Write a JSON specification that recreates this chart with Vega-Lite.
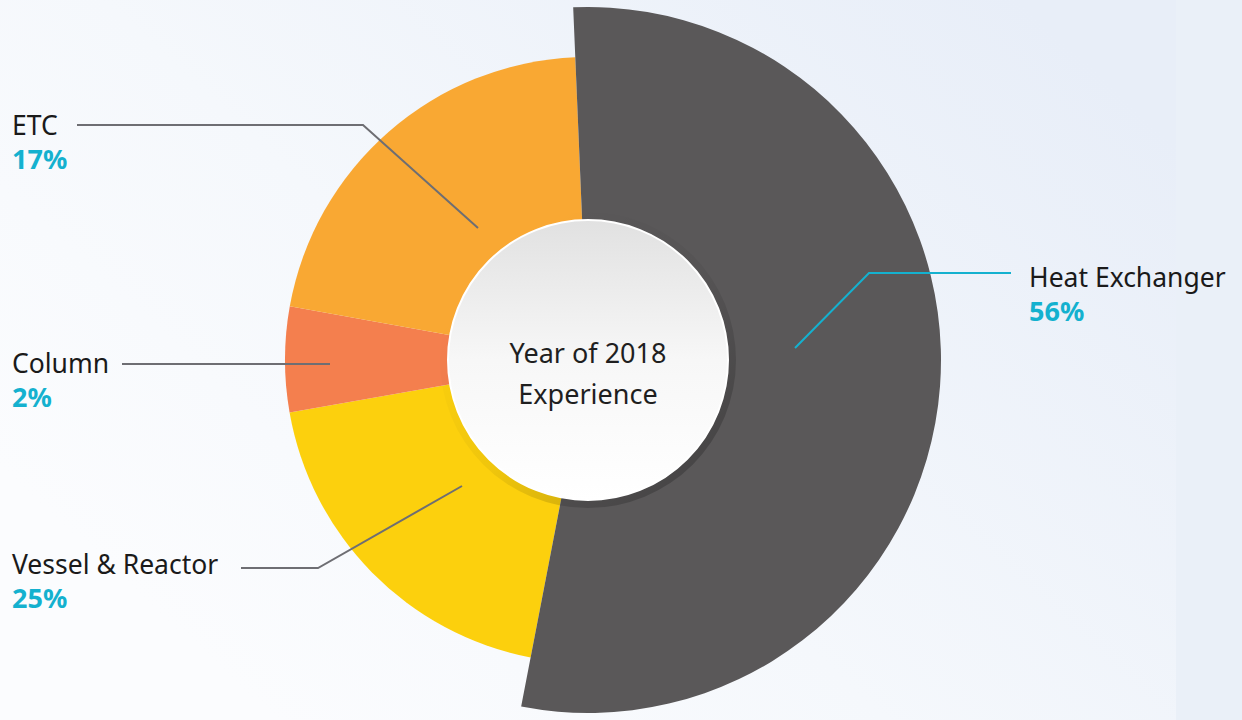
{
  "$schema": "https://vega.github.io/schema/vega-lite/v6.json",
  "autosize": {"type": "none"},
  "width": 1176,
  "height": 720,
  "padding": {"left": 0, "top": 0, "right": 66, "bottom": 0},
  "background": "#eaf0f8",
  "config": {
    "view": {"stroke": null, "fill": {"gradient": "linear", "x1": 1, "y1": 0.2, "x2": 0.1, "y2": 0.8, "stops": [{"offset": 0, "color": "#e8eef8"}, {"offset": 0.6, "color": "#f5f8fc"}, {"offset": 1, "color": "#fbfcfe"}]}},
    "font": "Noto Sans"
  },
  "datasets": {
    "slices": [
      {"cat": "Heat Exchanger", "rank": 1, "share": 0.537, "pct": "56%"},
      {"cat": "Vessel & Reactor", "rank": 2, "share": 0.192, "pct": "25%"},
      {"cat": "Column", "rank": 3, "share": 0.056, "pct": "2%"},
      {"cat": "ETC", "rank": 4, "share": 0.215, "pct": "17%"}
    ],
    "leaders": [
      {"cat": "ETC", "i": 0, "x": -511, "y": 235},
      {"cat": "ETC", "i": 1, "x": -225, "y": 235},
      {"cat": "ETC", "i": 2, "x": -110, "y": 132},
      {"cat": "Column", "i": 0, "x": -466, "y": -4},
      {"cat": "Column", "i": 1, "x": -258, "y": -4},
      {"cat": "Vessel & Reactor", "i": 0, "x": -347, "y": -208},
      {"cat": "Vessel & Reactor", "i": 1, "x": -270, "y": -208},
      {"cat": "Vessel & Reactor", "i": 2, "x": -126, "y": -126}
    ],
    "heLeader": [
      {"cat": "Heat Exchanger", "i": 0, "x": 207, "y": 12},
      {"cat": "Heat Exchanger", "i": 1, "x": 281, "y": 87},
      {"cat": "Heat Exchanger", "i": 2, "x": 423, "y": 87}
    ],
    "labels": [
      {"cat": "ETC", "pct": "17%", "x": -576, "y": 225},
      {"cat": "Column", "pct": "2%", "x": -576, "y": -13},
      {"cat": "Vessel & Reactor", "pct": "25%", "x": -576, "y": -214},
      {"cat": "Heat Exchanger", "pct": "56%", "x": 441, "y": 73}
    ],
    "center": [
      {"line": "Year of 2018", "x": 0, "y": -3},
      {"line": "Experience", "x": 0, "y": -44}
    ]
  },
  "layer": [
    {
      "data": {"name": "slices"},
      "transform": [
        {"stack": "share", "groupby": [], "sort": [{"field": "rank", "order": "ascending"}], "as": ["t0", "t1"]},
        {"filter": "datum.cat !== 'Heat Exchanger'"}
      ],
      "mark": {"type": "arc", "outerRadius": 303, "innerRadius": 0},
      "encoding": {
        "theta": {"field": "t0", "type": "quantitative", "scale": {"domain": [0, 1], "range": [-0.042, 6.2412]}},
        "theta2": {"field": "t1"},
        "color": {"field": "cat", "type": "nominal", "legend": null,
          "scale": {"domain": ["Heat Exchanger", "Vessel & Reactor", "Column", "ETC"], "range": ["#5a5859", "#fcd00d", "#f47f4e", "#f9a833"]}}
      }
    },
    {
      "data": {"name": "slices"},
      "transform": [
        {"stack": "share", "groupby": [], "sort": [{"field": "rank", "order": "ascending"}], "as": ["t0", "t1"]},
        {"filter": "datum.cat === 'Heat Exchanger'"}
      ],
      "mark": {"type": "arc", "outerRadius": 353, "innerRadius": 0},
      "encoding": {
        "theta": {"field": "t0", "type": "quantitative", "scale": {"domain": [0, 1], "range": [-0.042, 6.2412]}},
        "theta2": {"field": "t1"},
        "color": {"field": "cat", "type": "nominal", "legend": null}
      }
    },
    {
      "data": {"values": [{"k": 1}]},
      "mark": {"type": "arc", "outerRadius": 148, "innerRadius": 0, "theta": 0, "theta2": 6.2832,
        "fill": {"gradient": "linear", "x1": 0.2, "y1": 0.2, "x2": 0.85, "y2": 0.9, "stops": [{"offset": 0, "color": "rgba(0,0,0,0)"}, {"offset": 0.5, "color": "rgba(0,0,0,0.05)"}, {"offset": 1, "color": "rgba(0,0,0,0.22)"}]}},
      "encoding": {}
    },
    {
      "data": {"values": [{"k": 1}]},
      "mark": {"type": "arc", "outerRadius": 140, "innerRadius": 0, "theta": 0, "theta2": 6.2832, "stroke": "#ffffff", "strokeWidth": 2,
        "fill": {"gradient": "linear", "x1": 0, "y1": 0, "x2": 0, "y2": 1, "stops": [{"offset": 0, "color": "#e1e1e1"}, {"offset": 0.5, "color": "#f7f7f7"}, {"offset": 1, "color": "#ffffff"}]}},
      "encoding": {}
    },
    {
      "data": {"name": "leaders"},
      "mark": {"type": "line", "color": "#6e6e73", "strokeWidth": 2},
      "encoding": {
        "x": {"field": "x", "type": "quantitative", "scale": {"domain": [-588, 588], "nice": false, "zero": false}, "axis": null},
        "y": {"field": "y", "type": "quantitative", "scale": {"domain": [-360, 360], "nice": false, "zero": false}, "axis": null},
        "detail": {"field": "cat"},
        "order": {"field": "i"}
      }
    },
    {
      "data": {"name": "heLeader"},
      "mark": {"type": "line", "color": "#14b1cf", "strokeWidth": 2},
      "encoding": {
        "x": {"field": "x", "type": "quantitative", "axis": null},
        "y": {"field": "y", "type": "quantitative", "axis": null},
        "order": {"field": "i"}
      }
    },
    {
      "data": {"name": "labels"},
      "mark": {"type": "text", "align": "left", "baseline": "alphabetic", "fontSize": 26.5, "color": "#1a1a1a"},
      "encoding": {
        "x": {"field": "x", "type": "quantitative", "axis": null},
        "y": {"field": "y", "type": "quantitative", "axis": null},
        "text": {"field": "cat"}
      }
    },
    {
      "data": {"name": "labels"},
      "mark": {"type": "text", "align": "left", "baseline": "alphabetic", "dy": 34, "fontSize": 27, "fontWeight": "bold", "color": "#14b1cf"},
      "encoding": {
        "x": {"field": "x", "type": "quantitative", "axis": null},
        "y": {"field": "y", "type": "quantitative", "axis": null},
        "text": {"field": "pct"}
      }
    },
    {
      "data": {"name": "center"},
      "mark": {"type": "text", "align": "center", "baseline": "alphabetic", "fontSize": 27, "color": "#1f1f1f"},
      "encoding": {
        "x": {"field": "x", "type": "quantitative", "axis": null},
        "y": {"field": "y", "type": "quantitative", "axis": null},
        "text": {"field": "line"}
      }
    }
  ]
}
